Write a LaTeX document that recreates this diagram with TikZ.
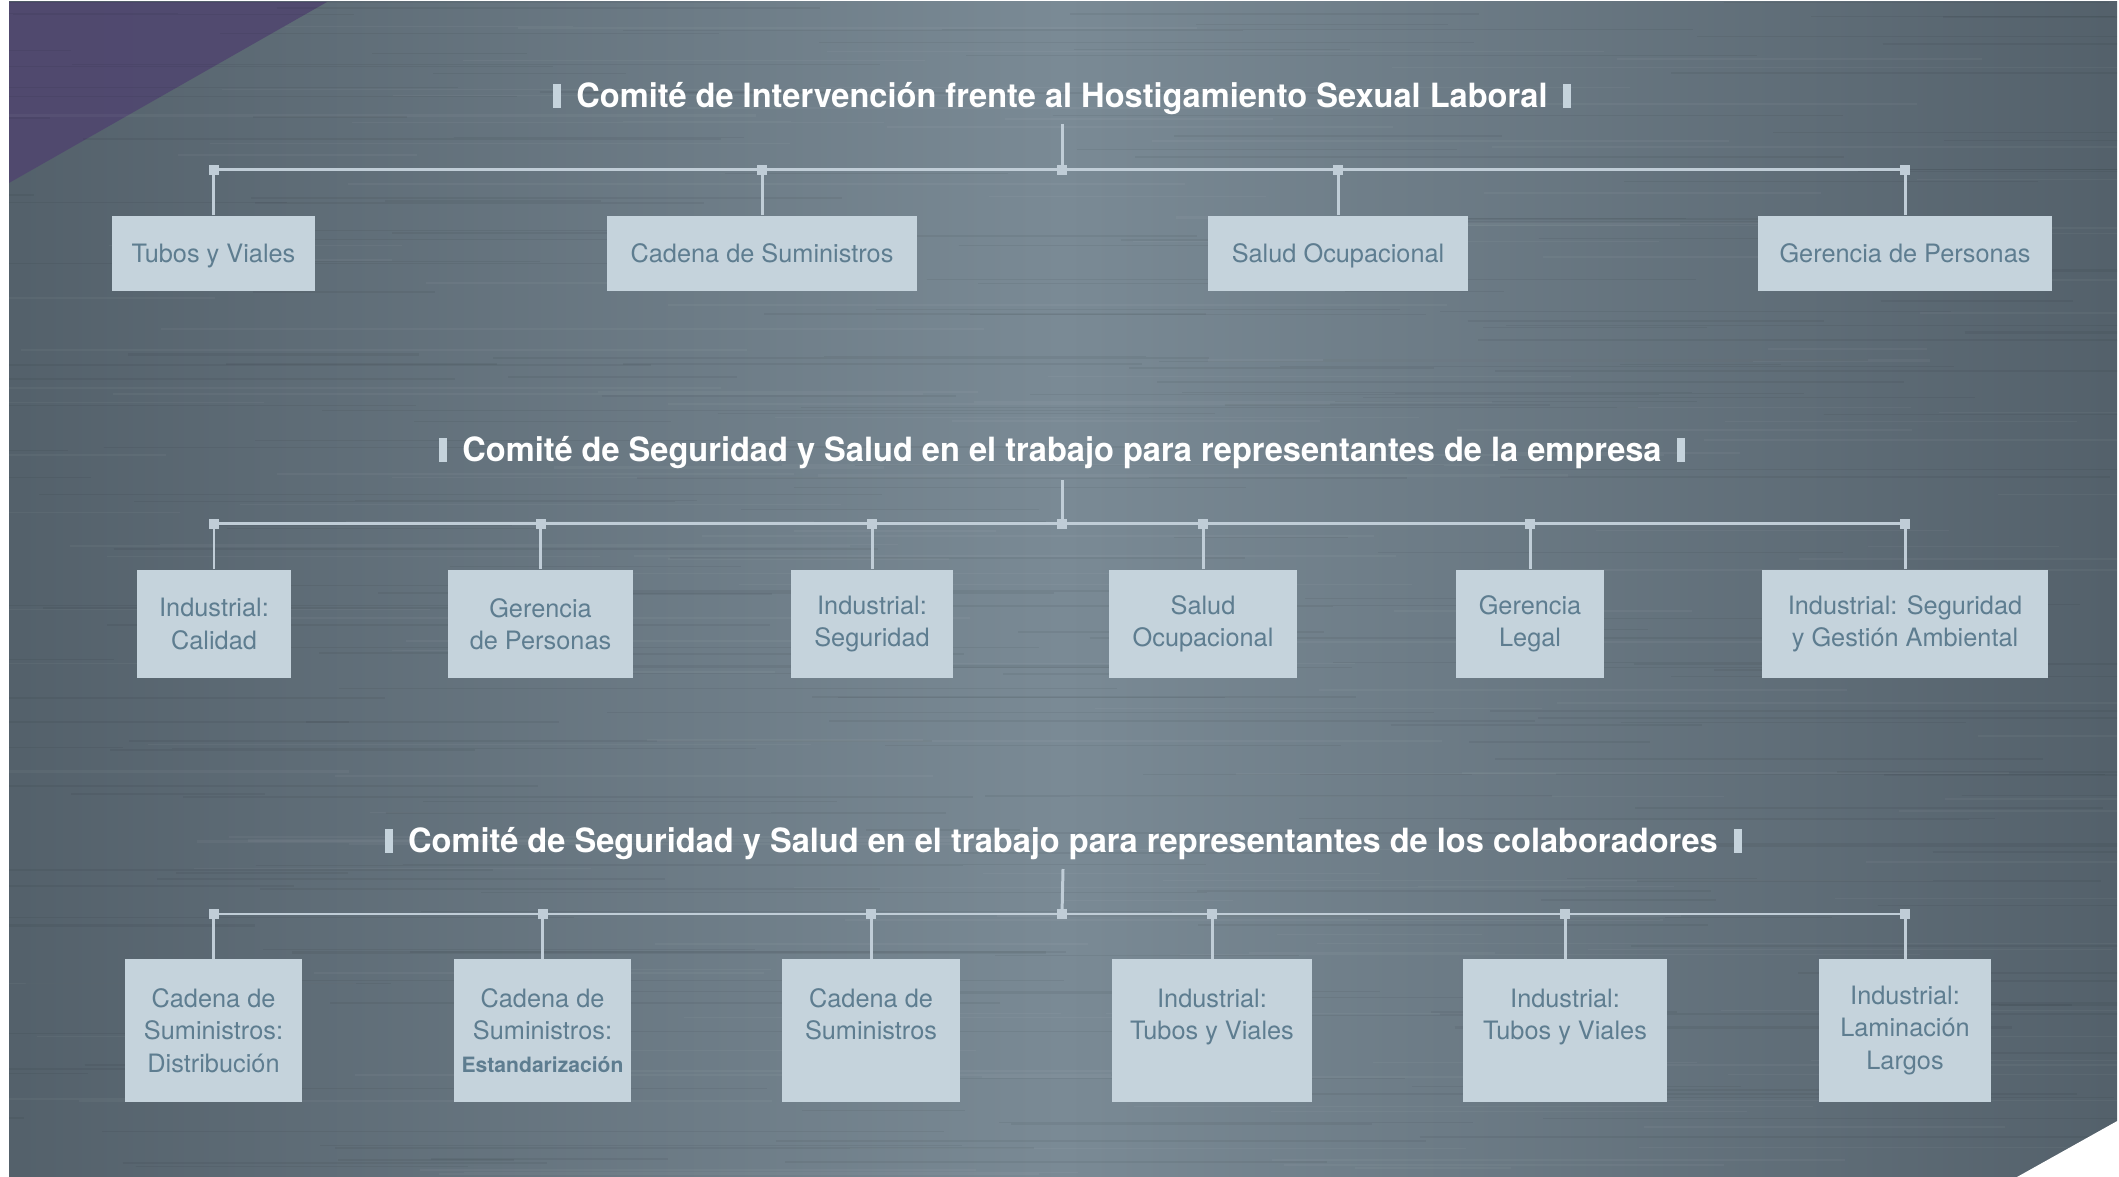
\documentclass[tikz,border=0pt]{standalone}
\usepackage{fontspec}
\setmainfont{TeX Gyre Heros}
\newfontfamily\headfont{TeX Gyre Heros}[FakeStretch=0.975]
\usetikzlibrary{calc,positioning}

\definecolor{boxfill}{HTML}{C5D3DC}
\definecolor{boxtext}{HTML}{5E7D90}
\definecolor{linkcol}{HTML}{C0CDD7}
\definecolor{bgdark}{HTML}{3A4650}
\definecolor{bgmid}{HTML}{525F69}
\definecolor{bglight}{HTML}{7A8A95}
\definecolor{purp}{HTML}{50476F}
\pgfdeclarehorizontalshading{brushed}{100bp}{color(0bp)=(bgdark); color(24bp)=(bgmid); color(50bp)=(bglight); color(76bp)=(bgmid); color(100bp)=(bgdark)}

\tikzset{
  comite/.style={text=white, inner sep=0pt, anchor=base, font=\headfont\bfseries\fontsize{9.5}{11}\selectfont},
  area/.style={fill=boxfill, text=boxtext, align=center, inner sep=0pt, font=\fontsize{7.2}{9.2}\selectfont},
  rowa/.style={area, minimum height=0.75cm, text height=5.2pt, text depth=0pt},
  rowb/.style={area, minimum height=1.08cm},
  rowc/.style={area, minimum height=1.42cm},
  link/.style={draw=linkcol, line width=0.85pt},
  knot/.style={fill=linkcol, minimum size=0.1cm, inner sep=0pt},
  bar/.style={fill=boxfill}
}

\begin{document}
\begin{tikzpicture}[x=0.01cm, y=-0.01cm]
\useasboundingbox (0,0) rectangle (2119,1177);
% background
\shade[shading=brushed] (9,2) rectangle (2117,1177);
\fill[purp, opacity=0.9] (9,2) -- (327,2) -- (9,183) -- cycle;
\begin{scope}
  \clip (9,2) rectangle (2117,1177);
  \pgfmathsetseed{11}
  \foreach \i in {1,...,260}{
    \pgfmathsetmacro{\sy}{2+1175*rnd}
    \pgfmathsetmacro{\sx}{-200+2200*rnd}
    \pgfmathsetmacro{\sl}{150+700*rnd}
    \pgfmathsetmacro{\sw}{0.2+0.5*rnd}
    \draw[black, opacity=0.05, line width=\sw pt] (\sx,\sy) -- ++(\sl,0);
  }
  \foreach \i in {1,...,160}{
    \pgfmathsetmacro{\sy}{2+1175*rnd}
    \pgfmathsetmacro{\sx}{-200+2200*rnd}
    \pgfmathsetmacro{\sl}{150+700*rnd}
    \pgfmathsetmacro{\sw}{0.2+0.5*rnd}
    \draw[white, opacity=0.04, line width=\sw pt] (\sx,\sy) -- ++(\sl,0);
  }
\end{scope}
\fill[white] (2017,1177) -- (2119,1120) -- (2119,1177) -- cycle;

% comite 1
\node[comite] (t1) at (1062,108) {Comité de Intervención frente al Hostigamiento Sexual Laboral};
\coordinate (h1) at (1062,170);
\node[rowa, minimum width=2.03cm] (tubos) at (213.5,253.5) {Tubos y Viales};
\node[rowa, minimum width=3.09cm] (cadena) at (762,253.5) {Cadena de Suministros};
\node[rowa, minimum width=2.59cm] (salud) at (1338,253.5) {Salud Ocupacional};
\node[rowa, minimum width=2.93cm] (gerencia) at (1905,253.5) {Gerencia de Personas};

% comite 2
\node[comite] (t2) at (1062,462) {Comité de Seguridad y Salud en el trabajo para representantes de la empresa};
\coordinate (h2) at (1062,524);
\node[rowb, minimum width=1.53cm] (calidad) at (214,624) {Industrial:\\Calidad};
\node[rowb, minimum width=1.84cm] (personas) at (540.5,624) {Gerencia\\de Personas};
\node[rowb, minimum width=1.61cm] (seguridad) at (872,624) {Industrial:\\Seguridad};
\node[rowb, minimum width=1.87cm] (ocupacional) at (1203,624) {Salud\\Ocupacional};
\node[rowb, minimum width=1.47cm] (legal) at (1530,624) {Gerencia\\Legal};
\node[rowb, minimum width=2.85cm] (ambiental) at (1905,624) {Industrial: Seguridad\\y Gestión Ambiental};

% comite 3
\node[comite] (t3) at (1063,853) {Comité de Seguridad y Salud en el trabajo para representantes de los colaboradores};
\coordinate (h3) at (1062,914);
\node[rowc, minimum width=1.76cm] (distrib) at (213.5,1030.5) {Cadena de\\Suministros:\\Distribución};
\node[rowc, minimum width=1.77cm] (estand) at (542.5,1030.5) {Cadena de\\Suministros:\\{\bfseries\fontsize{6}{9.2}\selectfont Estandarización}};
\node[rowc, minimum width=1.77cm] (suministros) at (871,1030.5) {Cadena de\\Suministros\\\mbox{}};
\node[rowc, minimum width=2.00cm] (tubosa) at (1212,1030.5) {Industrial:\\Tubos y Viales\\\mbox{}};
\node[rowc, minimum width=2.03cm] (tubosb) at (1565,1030.5) {Industrial:\\Tubos y Viales\\\mbox{}};
\node[rowc, minimum width=1.72cm] (largos) at (1905,1030.5) {Industrial:\\Laminación\\Largos};

% bars beside the titles
\foreach \t in {t1,t2,t3}{
  \fill[bar] ($(\t.base west)+(-15,0)$) rectangle ++(-8,-24);
  \fill[bar] ($(\t.base east)+(15,0)$) rectangle ++(8,-24);
}

% connectors
\draw[link] ([yshift=-0.16cm]t1.base) -- (h1);
\draw[link] (tubos.north |- h1) -- (gerencia.north |- h1);
\foreach \b in {tubos,cadena,salud,gerencia}{
  \draw[link] (\b.north) -- (\b.north |- h1);
  \node[knot] (k-\b) at (\b.north |- h1) {};
}
\node[knot] (k1) at (h1) {};

\draw[link] ([yshift=-0.18cm]t2.base) -- (h2);
\draw[link] (calidad.north |- h2) -- (ambiental.north |- h2);
\foreach \b in {calidad,personas,seguridad,ocupacional,legal,ambiental}{
  \draw[link] (\b.north) -- (\b.north |- h2);
  \node[knot] (k-\b) at (\b.north |- h2) {};
}
\node[knot] (k2) at (h2) {};

\draw[link] ([yshift=-0.16cm]t3.base) -- (h3);
\draw[link] (distrib.north |- h3) -- (largos.north |- h3);
\foreach \b in {distrib,estand,suministros,tubosa,tubosb,largos}{
  \draw[link] (\b.north) -- (\b.north |- h3);
  \node[knot] (k-\b) at (\b.north |- h3) {};
}
\node[knot] (k3) at (h3) {};
\end{tikzpicture}
\end{document}
